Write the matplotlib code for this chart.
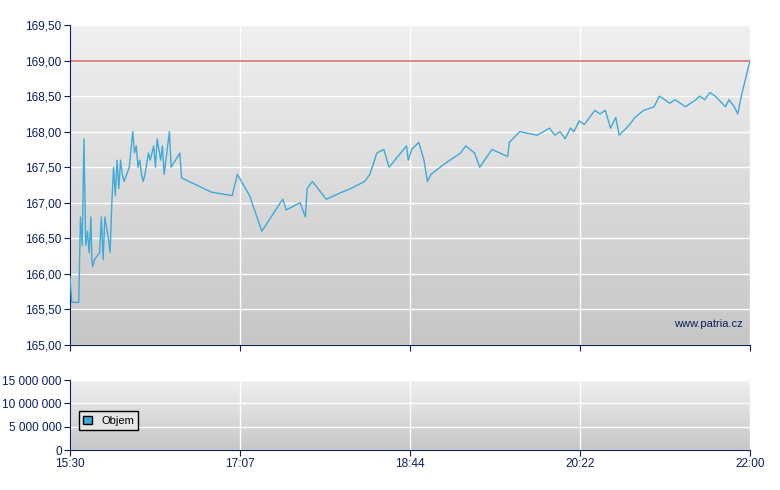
import matplotlib
matplotlib.use("Agg")
import matplotlib.pyplot as plt
import numpy as np
from matplotlib.patches import Patch
from matplotlib.colors import LinearSegmentedColormap

plt.rcParams['font.family'] = ['Liberation Sans', 'DejaVu Sans']

minutes = [0,1,5,6,7,8,9,10,11,12,12.5,13,14,17,18,19,20,22,23,24,25,26,27,28,29,30,31,34,36,37,38,39,40,41,42,43,45,46,48,49,50,52,53,54,55,57,58,63,64,81,93,96,103,110,122,124,132,135,136,139,147,156,161,169,172,176,180,183,193,194,196,200,203,205,207,215,224,227,232,235,242,251,252,258,268,275,278,281,284,287,289,292,295,298,301,304,307,310,313,315,321,324,329,335,338,341,344,347,353,356,359,361,364,367,370,376,378,381,383,385,387,389,390]
prices = [165.95,165.6,165.6,166.8,166.4,167.9,166.4,166.6,166.3,166.8,166.2,166.1,166.2,166.3,166.8,166.2,166.8,166.5,166.3,167.0,167.5,167.1,167.6,167.2,167.6,167.4,167.3,167.5,168.0,167.7,167.8,167.5,167.6,167.4,167.3,167.4,167.7,167.6,167.8,167.5,167.9,167.6,167.8,167.4,167.6,168.0,167.5,167.7,167.35,167.15,167.1,167.4,167.1,166.6,167.05,166.9,167.0,166.8,167.2,167.3,167.05,167.15,167.2,167.3,167.4,167.7,167.75,167.5,167.8,167.6,167.75,167.85,167.6,167.3,167.4,167.55,167.7,167.8,167.7,167.5,167.75,167.65,167.85,168.0,167.95,168.05,167.95,168.0,167.9,168.05,168.0,168.15,168.1,168.2,168.3,168.25,168.3,168.05,168.2,167.95,168.1,168.2,168.3,168.35,168.5,168.45,168.4,168.45,168.35,168.4,168.45,168.5,168.45,168.55,168.5,168.35,168.45,168.35,168.25,168.5,168.7,168.9,169.0]
ref_price = 169.0
tick_minutes = [0, 97.5, 195, 292.5, 390]
tick_labels = ["15:30", "17:07", "18:44", "20:22", "22:00"]
price_ticks = [165.0,165.5,166.0,166.5,167.0,167.5,168.0,168.5,169.0,169.5]
vol_ticks = [0, 5000000, 10000000, 15000000]
vol_labels = ["0", "5 000 000", "10 000 000", "15 000 000"]

navy = "#0a1f5c"
fig = plt.figure(figsize=(7.8, 4.9), dpi=100)
ax = fig.add_axes([70/780, 1-345/490, 680/780, 320/490])
ax2 = fig.add_axes([70/780, 1-450/490, 680/780, 70/490])

def style(a):
    grad = np.linspace(0, 1, 256).reshape(-1, 1)
    cm = LinearSegmentedColormap.from_list("g", ["#f0f0f0", "#c6c6c6"])
    a.imshow(grad, aspect="auto", cmap=cm, extent=[0, 1, 0, 1], transform=a.transAxes, zorder=0)
    for s in ["top", "right"]:
        a.spines[s].set_visible(False)
    for s in ["left", "bottom"]:
        a.spines[s].set_color(navy)
    a.tick_params(colors=navy, labelcolor=navy, labelsize=8.5, direction="out", length=4, pad=2)
    a.set_xlim(0, 390)
    a.set_xticks(tick_minutes)
    for t in tick_minutes:
        a.axvline(t, color="white", lw=1, zorder=1)

style(ax)
ax.set_ylim(165, 169.5)
ax.set_yticks(price_ticks)
ax.set_yticklabels([f"{v:.2f}".replace(".", ",") for v in price_ticks])
for v in price_ticks:
    ax.axhline(v, color="white", lw=1, zorder=1)
ax.set_xticklabels([])
ax.axhline(ref_price, color="#e07070", lw=1.2, zorder=2)
ax.plot(minutes, prices, color="#3fa9d8", lw=1, zorder=3)
ax.text(0.99, 0.05, "www.patria.cz", transform=ax.transAxes, ha="right", va="bottom", color=navy, fontsize=8)

style(ax2)
ax2.set_ylim(0, 15000000)
ax2.set_yticks(vol_ticks)
ax2.set_yticklabels(vol_labels)
for v in vol_ticks:
    ax2.axhline(v, color="white", lw=1, zorder=1)
ax2.set_xticklabels(tick_labels)
leg = ax2.legend(handles=[Patch(facecolor="#3fa9d8", edgecolor="black", label="Objem")],
                 loc="lower left", bbox_to_anchor=(0.005, 0.2), fontsize=8,
                 fancybox=False, framealpha=1, handlelength=0.8, handleheight=0.8)
leg.get_frame().set_edgecolor("black")
leg.get_frame().set_facecolor("#e6e6e6")

fig.savefig("out.png", dpi=100)
